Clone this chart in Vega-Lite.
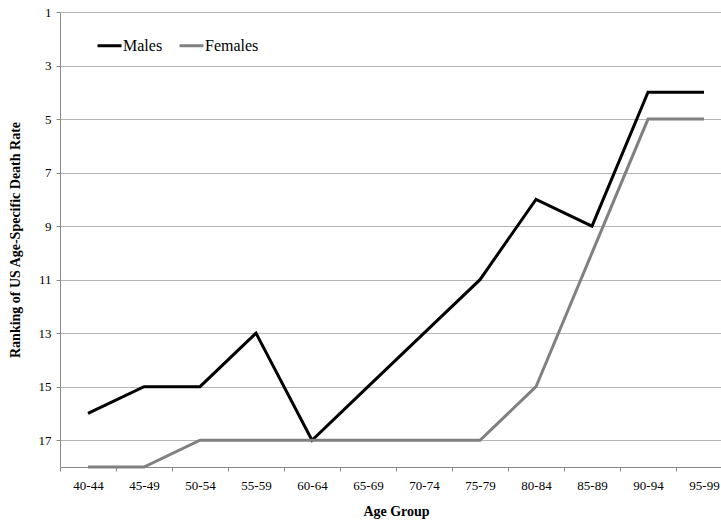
{
  "$schema": "https://vega.github.io/schema/vega-lite/v6.json",
  "autosize": "none",
  "padding": {"left": 60, "top": 12, "right": 0, "bottom": 55},
  "width": 672,
  "height": 455,
  "background": "white",
  "config": {
    "font": "Times New Roman, serif",
    "view": {"stroke": null}
  },
  "data": {
    "values": [
      {"age": "40-44", "series": "Males", "rank": 16},
      {"age": "45-49", "series": "Males", "rank": 15},
      {"age": "50-54", "series": "Males", "rank": 15},
      {"age": "55-59", "series": "Males", "rank": 13},
      {"age": "60-64", "series": "Males", "rank": 17},
      {"age": "65-69", "series": "Males", "rank": 15},
      {"age": "70-74", "series": "Males", "rank": 13},
      {"age": "75-79", "series": "Males", "rank": 11},
      {"age": "80-84", "series": "Males", "rank": 8},
      {"age": "85-89", "series": "Males", "rank": 9},
      {"age": "90-94", "series": "Males", "rank": 4},
      {"age": "95-99", "series": "Males", "rank": 4},
      {"age": "40-44", "series": "Females", "rank": 18},
      {"age": "45-49", "series": "Females", "rank": 18},
      {"age": "50-54", "series": "Females", "rank": 17},
      {"age": "55-59", "series": "Females", "rank": 17},
      {"age": "60-64", "series": "Females", "rank": 17},
      {"age": "65-69", "series": "Females", "rank": 17},
      {"age": "70-74", "series": "Females", "rank": 17},
      {"age": "75-79", "series": "Females", "rank": 17},
      {"age": "80-84", "series": "Females", "rank": 15},
      {"age": "85-89", "series": "Females", "rank": 10},
      {"age": "90-94", "series": "Females", "rank": 5},
      {"age": "95-99", "series": "Females", "rank": 5}
    ]
  },
  "mark": {"type": "line", "strokeWidth": 3, "strokeJoin": "miter"},
  "encoding": {
    "x": {
      "field": "age",
      "type": "ordinal",
      "sort": null,
      "scale": {"type": "band", "paddingInner": 0, "paddingOuter": 0},
      "axis": {
        "title": "Age Group",
        "titleFont": "Times New Roman, serif",
        "titleFontSize": 14,
        "titleFontWeight": "bold",
        "titleColor": "black",
        "titlePadding": 12,
        "labelAngle": 0,
        "labelFont": "Times New Roman, serif",
        "labelFontSize": 13,
        "labelColor": "black",
        "labelPadding": 8,
        "tickBand": "extent",
        "tickSize": 4,
        "tickColor": "#888888",
        "domainColor": "#888888",
        "grid": false
      }
    },
    "y": {
      "field": "rank",
      "type": "quantitative",
      "scale": {"domain": [1, 18], "reverse": true, "nice": false, "zero": false},
      "axis": {
        "title": "Ranking of US Age-Specific Death Rate",
        "titleFont": "Times New Roman, serif",
        "titleFontSize": 14,
        "titleFontWeight": "bold",
        "titleColor": "black",
        "titlePadding": 16,
        "values": [1, 3, 5, 7, 9, 11, 13, 15, 17],
        "labelFont": "Times New Roman, serif",
        "labelFontSize": 13,
        "labelColor": "black",
        "labelPadding": 5,
        "tickSize": 4,
        "tickColor": "#888888",
        "domainColor": "#888888",
        "grid": true,
        "gridColor": "#b4b4b4",
        "gridWidth": 1
      }
    },
    "color": {
      "field": "series",
      "type": "nominal",
      "scale": {"domain": ["Males", "Females"], "range": ["#000000", "#808080"]},
      "legend": {
        "title": null,
        "orient": "none",
        "direction": "horizontal",
        "legendX": 36,
        "legendY": 20,
        "symbolType": "stroke",
        "symbolSize": 576,
        "symbolStrokeWidth": 3,
        "labelFont": "Times New Roman, serif",
        "labelFontSize": 16,
        "labelColor": "black",
        "labelOffset": 0,
        "columnPadding": 10
      }
    }
  }
}
